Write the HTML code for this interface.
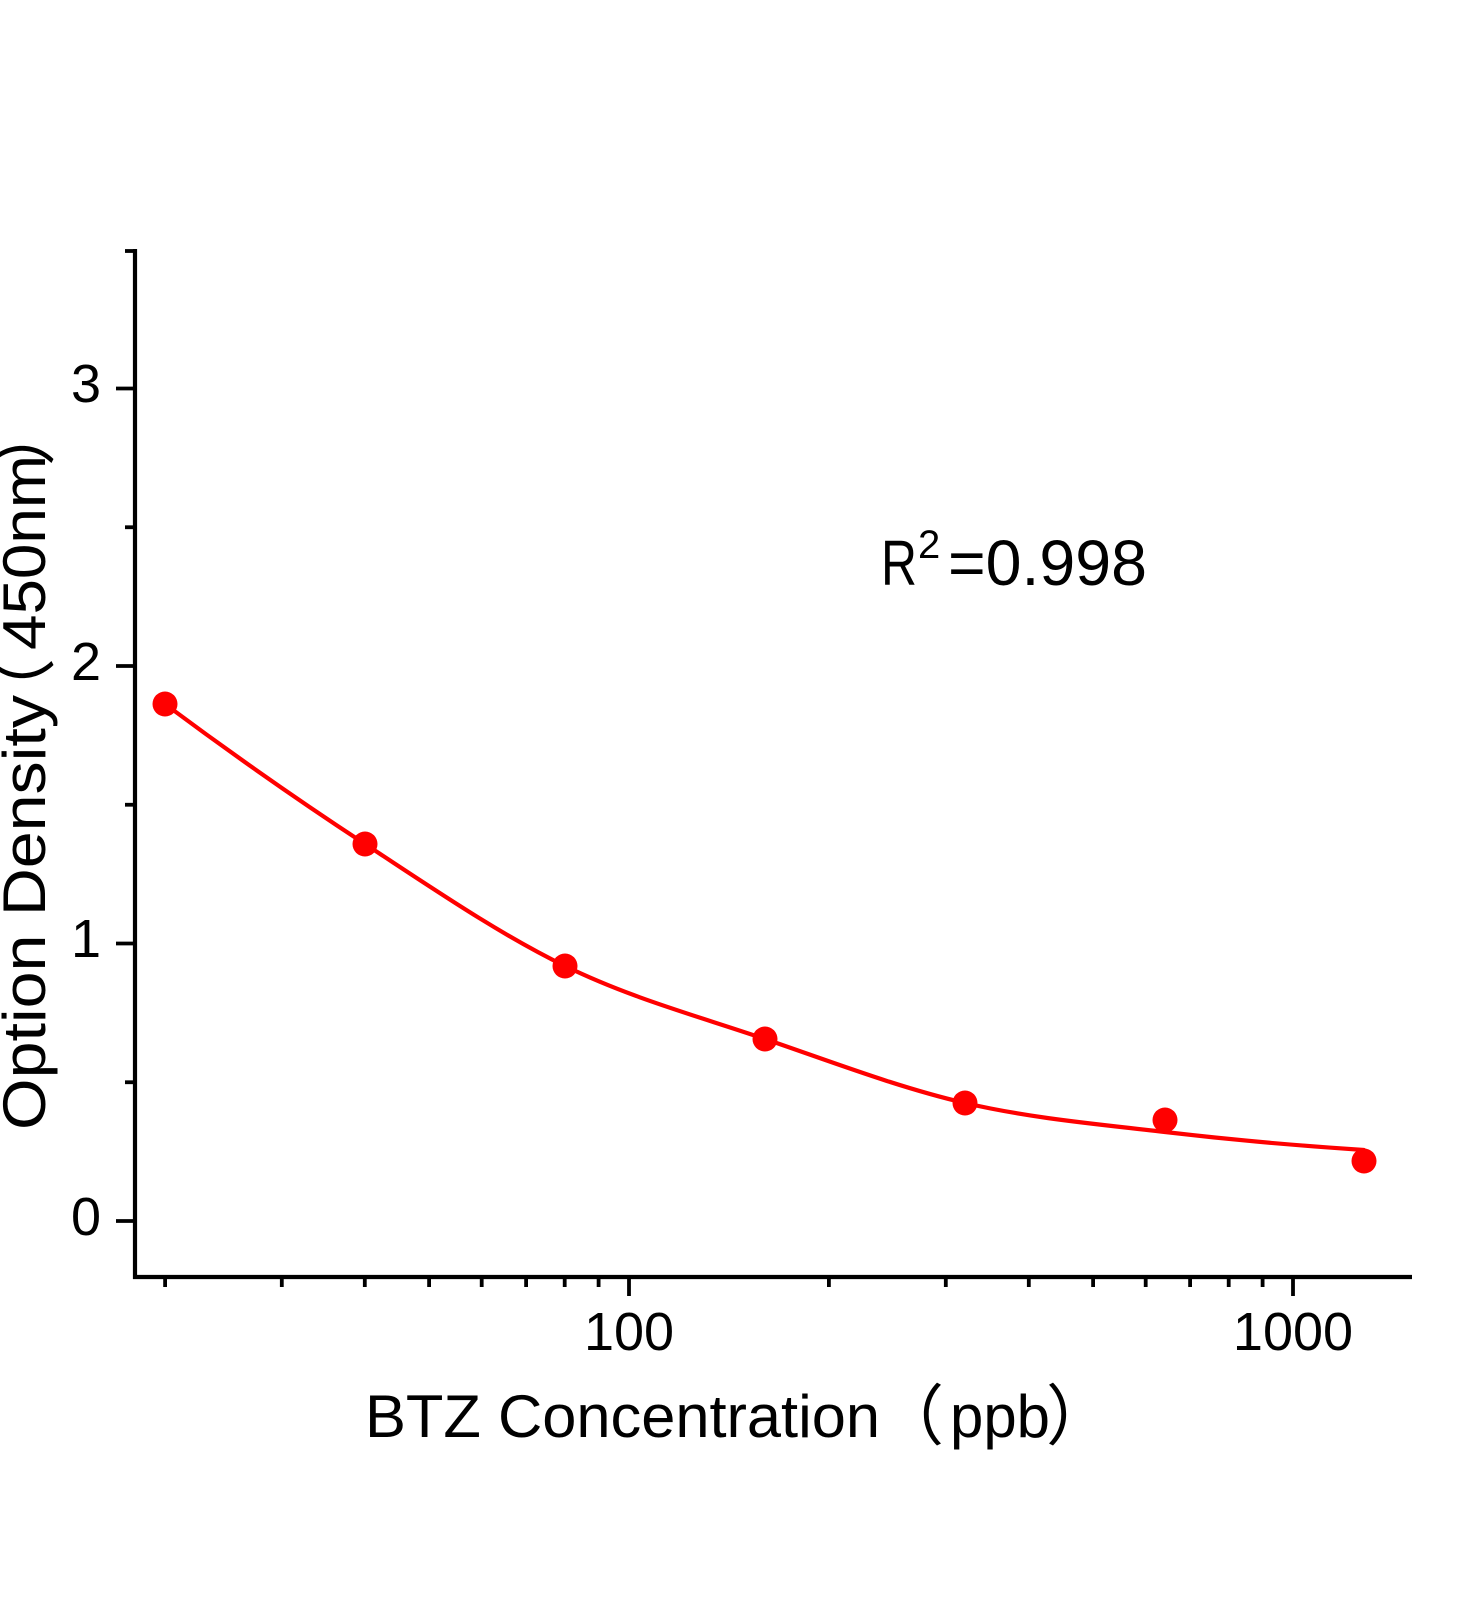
<!DOCTYPE html>
<html>
<head>
<meta charset="utf-8">
<style>
  html, body { margin: 0; padding: 0; background: #ffffff; }
  svg { display: block; }
  text { font-family: "Liberation Sans", "Noto Sans CJK SC", sans-serif; fill: #000; }
  .cjk { font-family: "Noto Sans CJK SC", "Liberation Sans", sans-serif; }
</style>
</head>
<body>
<svg width="1472" height="1600" viewBox="0 0 1472 1600" xmlns="http://www.w3.org/2000/svg">
  <rect x="0" y="0" width="1472" height="1600" fill="#ffffff"/>

  <!-- Axes -->
  <g stroke="#000" stroke-width="4.2" fill="none">
    <line x1="135" y1="249" x2="135" y2="1279"/>
    <line x1="133" y1="1277" x2="1412" y2="1277"/>
  </g>

  <!-- Y ticks -->
  <g stroke="#000" stroke-width="3.8">
    <line x1="116" y1="1221" x2="135" y2="1221"/>
    <line x1="116" y1="943.5" x2="135" y2="943.5"/>
    <line x1="116" y1="666" x2="135" y2="666"/>
    <line x1="116" y1="388.5" x2="135" y2="388.5"/>
    <line x1="125" y1="1082.25" x2="135" y2="1082.25"/>
    <line x1="125" y1="804.75" x2="135" y2="804.75"/>
    <line x1="125" y1="527.25" x2="135" y2="527.25"/>
    <line x1="125" y1="251" x2="135" y2="251"/>
  </g>

  <!-- X ticks -->
  <g stroke="#000" stroke-width="3.8">
    <line x1="629" y1="1277" x2="629" y2="1296"/>
    <line x1="1293" y1="1277" x2="1293" y2="1296"/>
    <line x1="165.1" y1="1277" x2="165.1" y2="1287"/>
    <line x1="281.8" y1="1277" x2="281.8" y2="1287"/>
    <line x1="364.8" y1="1277" x2="364.8" y2="1287"/>
    <line x1="429.1" y1="1277" x2="429.1" y2="1287"/>
    <line x1="481.7" y1="1277" x2="481.7" y2="1287"/>
    <line x1="526.1" y1="1277" x2="526.1" y2="1287"/>
    <line x1="564.7" y1="1277" x2="564.7" y2="1287"/>
    <line x1="598.6" y1="1277" x2="598.6" y2="1287"/>
    <line x1="828.9" y1="1277" x2="828.9" y2="1287"/>
    <line x1="945.8" y1="1277" x2="945.8" y2="1287"/>
    <line x1="1028.8" y1="1277" x2="1028.8" y2="1287"/>
    <line x1="1093.1" y1="1277" x2="1093.1" y2="1287"/>
    <line x1="1145.7" y1="1277" x2="1145.7" y2="1287"/>
    <line x1="1190.1" y1="1277" x2="1190.1" y2="1287"/>
    <line x1="1228.7" y1="1277" x2="1228.7" y2="1287"/>
    <line x1="1262.6" y1="1277" x2="1262.6" y2="1287"/>
  </g>

  <!-- Y tick labels -->
  <g font-size="54" text-anchor="end">
    <text x="101" y="1235">0</text>
    <text x="101" y="957">1</text>
    <text x="101" y="680">2</text>
    <text x="101" y="402">3</text>
  </g>

  <!-- X tick labels -->
  <g font-size="54" text-anchor="middle">
    <text x="629" y="1350">100</text>
    <text x="1293" y="1350">1000</text>
  </g>

  <!-- Fit curve -->
  <path d="M165,704 C231.7,753.7 298.3,800.3 365,844 C431.7,887.7 498.3,933.5 565,966 C631.7,998.5 698.3,1016.2 765,1039 C831.7,1061.8 898.3,1087.5 965,1103 C1031.7,1118.5 1098.3,1124.2 1165,1132 C1231.5,1139.8 1297.5,1145.7 1364,1150"
        fill="none" stroke="#ff0000" stroke-width="4.2" stroke-linecap="round" stroke-linejoin="round"/>

  <!-- Data points -->
  <g fill="#ff0000">
    <circle cx="165" cy="704" r="12.5"/>
    <circle cx="365" cy="844" r="12.5"/>
    <circle cx="565" cy="966" r="12.5"/>
    <circle cx="765" cy="1039" r="12.5"/>
    <circle cx="965" cy="1103" r="12.5"/>
    <circle cx="1165" cy="1120" r="12.5"/>
    <circle cx="1364" cy="1161" r="12.5"/>
  </g>

  <!-- R^2 annotation -->
  <text x="881" y="585" font-size="64" textLength="36" lengthAdjust="spacingAndGlyphs">R</text>
  <text x="918" y="558" font-size="40">2</text>
  <text x="948" y="585" font-size="64" textLength="199" lengthAdjust="spacingAndGlyphs">=0.998</text>

  <!-- X axis title -->
  <text x="365" y="1437" font-size="60" textLength="515" lengthAdjust="spacingAndGlyphs">BTZ Concentration</text>
  <text class="cjk" x="878" y="1439" font-size="66">（</text>
  <text x="950" y="1437" font-size="60" textLength="100" lengthAdjust="spacingAndGlyphs">ppb</text>
  <text class="cjk" x="1046" y="1439" font-size="66">）</text>

  <!-- Y axis title -->
  <g transform="rotate(-90)">
    <text x="-1130" y="45" font-size="60" textLength="435" lengthAdjust="spacingAndGlyphs">Option Density</text>
    <text class="cjk" x="-724" y="47" font-size="66">（</text>
    <text x="-650" y="45" font-size="60" textLength="195" lengthAdjust="spacingAndGlyphs">450nm</text>
    <text class="cjk" x="-466" y="47" font-size="66">）</text>
  </g>
</svg>
</body>
</html>
